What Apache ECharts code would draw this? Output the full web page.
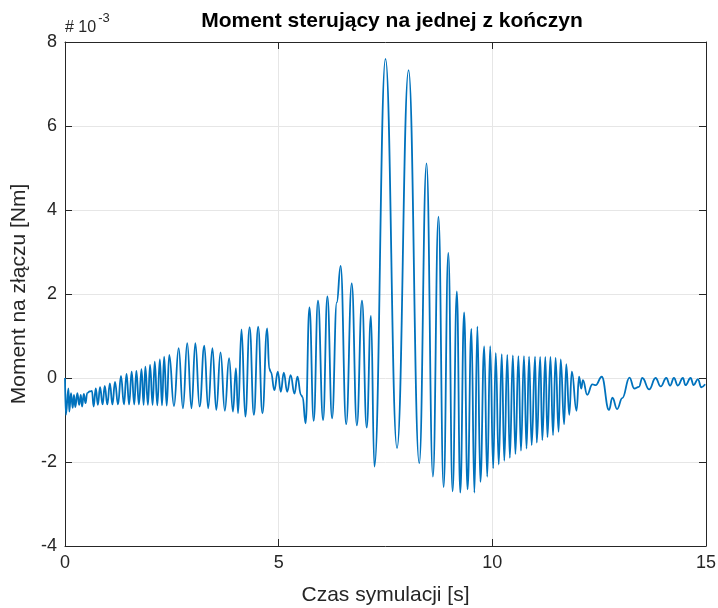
<!DOCTYPE html>
<html>
<head>
<meta charset="utf-8">
<script src="https://cdn.jsdelivr.net/npm/echarts@6/dist/echarts.min.js"></script>
<style>
html,body{margin:0;padding:0;background:#fff;}
#chart{width:718px;height:608px;}
</style>
</head>
<body>
<div id="chart"></div>
<script>
// Time [s] of the local extrema
var time = [
  0, 0.02, 0.08, 0.10, 0.14, 0.18, 0.21, 0.24, 0.29, 0.33, 0.37, 0.40, 0.44, 0.48, 0.52, 0.58, 0.63,
  0.67, 0.72, 0.77, 0.82, 0.88, 0.93, 0.99, 1.05, 1.11, 1.17, 1.24, 1.31, 1.38, 1.44, 1.50, 1.56,
  1.62, 1.67, 1.73, 1.79, 1.84, 1.88, 1.94, 1.99, 2.05, 2.10, 2.16, 2.22, 2.27, 2.32, 2.38, 2.44,
  2.55, 2.66, 2.76, 2.86, 2.96, 3.05, 3.15, 3.26, 3.35, 3.45, 3.54, 3.64, 3.74, 3.84, 3.93, 4.00,
  4.05, 4.13, 4.22, 4.32, 4.42, 4.52, 4.62, 4.73, 4.78, 4.82, 4.90, 4.98, 5.05, 5.12, 5.20, 5.28,
  5.37, 5.44, 5.52, 5.56, 5.63, 5.72, 5.82, 5.92, 6.04, 6.14, 6.25, 6.36, 6.45, 6.58, 6.71, 6.83,
  6.95, 7.06, 7.16, 7.24, 7.50, 7.77, 8.04, 8.29, 8.46, 8.61, 8.74, 8.86, 8.97, 9.07, 9.17, 9.25,
  9.34, 9.42, 9.51, 9.58, 9.65, 9.72, 9.81, 9.88, 9.95, 10.02, 10.08, 10.15, 10.22, 10.28, 10.35,
  10.41, 10.48, 10.54, 10.61, 10.67, 10.74, 10.80, 10.86, 10.92, 11.00, 11.04, 11.12, 11.17, 11.24,
  11.29, 11.36, 11.42, 11.48, 11.55, 11.60, 11.68, 11.73, 11.80, 11.86, 11.97, 12.03, 12.08, 12.12,
  12.22, 12.34, 12.42, 12.56, 12.73, 12.81, 12.92, 13.04, 13.21, 13.32, 13.43, 13.51, 13.67, 13.82,
  13.94, 14.07, 14.16, 14.25, 14.34, 14.46, 14.52, 14.64, 14.71, 14.81, 14.89, 14.98
];
// Moment [x 1e-3 Nm] at those instants
var moment = [
  0, -0.88, -0.25, -0.80, -0.36, -0.71, -0.40, -0.69, -0.36, -0.64, -0.40, -0.68, -0.38, -0.60, -0.36, -0.32, -0.31,
  -0.68, -0.25, -0.64, -0.22, -0.63, -0.19, -0.63, -0.13, -0.63, -0.09, -0.63, 0.05, -0.63, 0.10, -0.63, 0.15,
  -0.63, 0.17, -0.63, 0.21, -0.64, 0.27, -0.64, 0.31, -0.64, 0.39, -0.65, 0.44, -0.65, 0.51, -0.66, 0.55,
  -0.67, 0.71, -0.72, 0.83, -0.72, 0.83, -0.68, 0.77, -0.72, 0.71, -0.76, 0.61, -0.78, 0.47, -0.80, 0.23,
  -0.84, 1.16, -0.92, 1.21, -0.88, 1.22, -0.84, 1.18, 0.22, 0.14, -0.29, 0.15, -0.33, 0.13, -0.33, 0.07,
  -0.37, 0.03, -0.40, -0.45, -1.08, 1.68, -1.02, 1.84, -1.00, 1.94, -0.96, 1.80, 2.67, -1.10, 2.25, -1.13,
  1.84, -1.18, 1.48, -2.11, 7.60, -1.67, 7.33, -2.03, 5.11, -2.35, 3.84, -2.60, 2.98, -2.70, 2.06, -2.73,
  1.56, -2.65, 1.17, -2.73, 1.22, -2.47, 0.75, -2.35, 0.76, -2.15, 0.60, -2.06, 0.57, -1.97, 0.55,
  -1.90, 0.54, -1.81, 0.52, -1.73, 0.52, -1.68, 0.51, -1.60, 0.51, -1.54, 0.50, -1.48, 0.50,
  -1.41, 0.50, -1.36, 0.48, -1.28, 0.44, -1.10, 0.33, -0.88, 0.15, -0.78, 0.03, -0.25, -0.05,
  -0.40, -0.15, -0.17, 0.03, -0.76, -0.47, -0.74, -0.48, 0.01, -0.25, -0.21, 0.00, -0.27, 0.00,
  -0.20, 0.00, -0.18, 0.00, -0.18, 0.00, -0.17, 0.00, -0.17, -0.03, -0.22, -0.15
];
var xTicks = [0, 5, 10, 15];
var yTicks = [-4, -2, 0, 2, 4, 6, 8];

var data = time.map(function (t, i) { return [t, moment[i]]; });

var chart = echarts.init(document.getElementById('chart'), null, {renderer: 'canvas'});
var axisCol = '#262626';
var font = '"Liberation Sans", Arial, Helvetica, sans-serif';

chart.setOption({
  animation: false,
  backgroundColor: '#ffffff',
  textStyle: {fontFamily: font},
  title: {
    text: 'Moment sterujący na jednej z kończyn',
    left: 387, top: 6, textAlign: 'center',
    textStyle: {fontFamily: font, fontSize: 21, fontWeight: 'bold', color: '#000'}
  },
  graphic: [{
    type: 'text', left: 65, top: 12,
    style: {
      text: '{a|# 10}{b|-3}',
      rich: {
        a: {fontFamily: font, fontSize: 16, fill: axisCol, verticalAlign: 'bottom', padding: [8, 0, 0, 0]},
        b: {fontFamily: font, fontSize: 13, fill: axisCol, verticalAlign: 'top', padding: [0, 0, 8, 2]}
      }
    }
  }],
  grid: {left: 65, right: 12, top: 42, bottom: 62, containLabel: false, outerBoundsMode: 'none'},
  xAxis: [{
    type: 'value', min: xTicks[0], max: xTicks[xTicks.length - 1], interval: 5,
    name: 'Czas symulacji [s]', nameLocation: 'middle', nameGap: 39,
    nameTextStyle: {fontFamily: font, fontSize: 21, color: axisCol},
    axisLine: {show: true, onZero: false, lineStyle: {color: axisCol, width: 1}},
    axisTick: {show: true, inside: true, length: 7, lineStyle: {color: axisCol}},
    axisLabel: {fontFamily: font, fontSize: 18, color: axisCol, margin: 8},
    splitLine: {show: true, lineStyle: {color: '#e6e6e6', width: 1}}
  }, {
    type: 'value', position: 'top', min: xTicks[0], max: xTicks[xTicks.length - 1], interval: 5,
    axisLine: {show: true, onZero: false, lineStyle: {color: axisCol, width: 1}},
    axisTick: {show: true, inside: true, length: 7, lineStyle: {color: axisCol}},
    axisLabel: {show: false}, splitLine: {show: false}
  }],
  yAxis: [{
    type: 'value', min: yTicks[0], max: yTicks[yTicks.length - 1], interval: 2,
    name: 'Moment na złączu [Nm]', nameLocation: 'middle', nameGap: 34,
    nameTextStyle: {fontFamily: font, fontSize: 21, color: axisCol},
    axisLine: {show: true, onZero: false, lineStyle: {color: axisCol, width: 1}},
    axisTick: {show: true, inside: true, length: 7, lineStyle: {color: axisCol}},
    axisLabel: {fontFamily: font, fontSize: 18, color: axisCol, margin: 8},
    splitLine: {show: true, lineStyle: {color: '#e6e6e6', width: 1}}
  }, {
    type: 'value', position: 'right', min: yTicks[0], max: yTicks[yTicks.length - 1], interval: 2,
    axisLine: {show: true, onZero: false, lineStyle: {color: axisCol, width: 1}},
    axisTick: {show: true, inside: true, length: 7, lineStyle: {color: axisCol}},
    axisLabel: {show: false}, splitLine: {show: false}
  }],
  series: [{
    type: 'line', data: data, xAxisIndex: 0, yAxisIndex: 0,
    showSymbol: false, symbol: 'none',
    smooth: 0.45, smoothMonotone: 'x',
    lineStyle: {color: '#0072BD', width: 1.8},
    clip: true
  }]
});
</script>
</body>
</html>
